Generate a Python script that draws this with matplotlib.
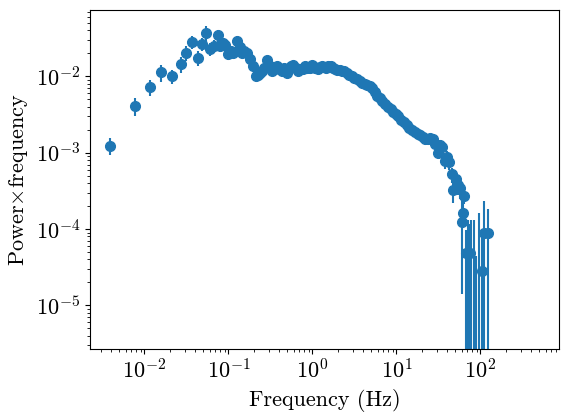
import matplotlib
matplotlib.use("Agg")
import matplotlib.pyplot as plt
import numpy as np

plt.rcParams['font.family'] = 'serif'
plt.rcParams['font.serif'] = ['cmr10']
plt.rcParams['mathtext.fontset'] = 'cm'
plt.rcParams['axes.formatter.use_mathtext'] = True
plt.rcParams['axes.unicode_minus'] = False

# frequency bins (Hz)
freq = [0.0039, 0.0078, 0.0117, 0.0156, 0.0215, 0.0273, 0.0312, 0.0371, 0.0430, 0.0488,
        0.0547, 0.0607, 0.0678, 0.0757, 0.0793, 0.0860, 0.0909, 0.0994, 0.107, 0.114,
        0.128, 0.136, 0.144, 0.155, 0.165, 0.180, 0.197, 0.212, 0.225, 0.237,
        0.252, 0.268, 0.290, 0.308, 0.327, 0.350, 0.375, 0.402, 0.430, 0.460,
        0.493, 0.530, 0.560, 0.590, 0.630, 0.678, 0.730, 0.780, 0.810, 0.870,
        0.930, 0.980, 1.02, 1.08, 1.15, 1.22, 1.30, 1.38, 1.46, 1.55,
        1.65, 1.75, 1.86, 1.98, 2.10, 2.25, 2.40, 2.55, 2.75, 2.95,
        3.15, 3.40, 3.65, 3.90, 4.20, 4.50, 4.80, 5.10, 5.50, 5.90,
        6.30, 6.80, 7.30, 7.90, 8.50, 9.10, 9.80, 10.5, 11.3, 12.2,
        13.2, 14.2, 15.3, 16.5, 17.8, 19.0, 20.5, 22.0, 23.5, 25.0,
        27.0, 29.0, 31.0, 33.0, 35.0, 37.9, 40.0, 42.5, 45.3, 47.5,
        51.0, 54.0, 56.9, 59.6, 61.3, 64.0, 66.5, 72.0, 75.2, 77.6,
        83.8, 88.5, 95.3, 103.0, 110.0, 124.0]

# power x frequency
power = [1.24e-3, 4.1e-3, 7.3e-3, 0.0114, 0.0101, 0.0147, 0.0203, 0.0283, 0.0174, 0.0268,
         0.0374, 0.0229, 0.0252, 0.0344, 0.0252, 0.0270, 0.0255, 0.0198, 0.0215, 0.0202,
         0.0294, 0.0240, 0.0202, 0.0215, 0.0202, 0.0169, 0.0135, 0.0100, 0.0105, 0.0111,
         0.0118, 0.0130, 0.0166, 0.0135, 0.0116, 0.0128, 0.0135, 0.0125, 0.0116, 0.0128,
         0.0111, 0.0125, 0.0138, 0.0142, 0.0128, 0.0116, 0.0125, 0.0125, 0.0135, 0.0130,
         0.0128, 0.0140, 0.0135, 0.0128, 0.0125, 0.0132, 0.0138, 0.0133, 0.0130, 0.0136,
         0.0138, 0.0130, 0.0124, 0.0122, 0.0120, 0.0119, 0.0116, 0.0110, 0.0105, 0.0100,
         0.0096, 0.0092, 0.0087, 0.0083, 0.0079, 0.0077, 0.0075, 0.0070, 0.0062, 0.0056,
         0.0052, 0.0048, 0.0044, 0.0040, 0.0037, 0.0034, 0.0032, 0.0030, 0.0027, 0.0025,
         0.0023, 0.0021, 0.0020, 0.00185, 0.00178, 0.00170, 0.00160, 0.00152, 0.00150, 0.00156,
         0.00150, 0.00130, 0.00100, 0.00127, 0.00120, 0.00077, 0.00088, 0.00075, 0.00052, 0.00032,
         0.00045, 0.00038, 0.00034, 1.22e-4, 1.62e-4, 2.73e-4, 4.8e-5, -2.0e-5, 4.8e-5, -2.0e-5,
         -1.0e-5, -3.0e-5, -2.0e-5, 2.78e-5, 9.0e-5, 9.0e-5]

# 1-sigma errors
err = [3.2e-4, 1.1e-3, 1.8e-3, 2.9e-3, 2.2e-3, 3.5e-3, 4.5e-3, 5.7e-3, 3.8e-3, 5.4e-3,
       8.2e-3, 4.6e-3, 4.5e-3, 6.2e-3, 4.3e-3, 4.3e-3, 4.1e-3, 3.2e-3, 3.2e-3, 3.0e-3,
       4.4e-3, 3.4e-3, 2.8e-3, 2.8e-3, 2.6e-3, 2.0e-3, 1.6e-3, 1.1e-3, 1.2e-3, 1.1e-3,
       1.2e-3, 1.3e-3, 1.5e-3, 1.2e-3, 1.0e-3, 1.0e-3, 1.1e-3, 1.0e-3, 0.8e-3, 0.9e-3,
       0.8e-3, 0.75e-3, 0.8e-3, 0.85e-3, 0.77e-3, 0.7e-3, 0.65e-3, 0.65e-3, 0.65e-3, 0.65e-3,
       0.64e-3, 0.7e-3, 0.67e-3, 0.64e-3, 0.62e-3, 0.66e-3, 0.69e-3, 0.66e-3, 0.65e-3, 0.68e-3,
       0.69e-3, 0.65e-3, 0.62e-3, 0.61e-3, 0.6e-3, 0.6e-3, 0.58e-3, 0.55e-3, 0.53e-3, 0.5e-3,
       0.48e-3, 0.46e-3, 0.44e-3, 0.42e-3, 0.4e-3, 0.39e-3, 0.38e-3, 0.36e-3, 0.32e-3, 0.29e-3,
       0.27e-3, 0.25e-3, 0.23e-3, 0.22e-3, 0.21e-3, 0.2e-3, 0.19e-3, 0.19e-3, 0.18e-3, 0.17e-3,
       0.16e-3, 0.15e-3, 0.15e-3, 0.14e-3, 0.14e-3, 0.14e-3, 0.14e-3, 0.13e-3, 0.14e-3, 0.15e-3,
       0.16e-3, 0.16e-3, 0.15e-3, 0.2e-3, 0.2e-3, 0.15e-3, 0.17e-3, 0.15e-3, 0.12e-3, 0.1e-3,
       0.1e-3, 0.1e-3, 0.09e-3, 1.08e-4, 0.6e-4, 0.6e-4, 5.0e-5, 1.5e-4, 7.0e-5, 1.5e-4,
       1.4e-4, 7.4e-5, 1.8e-4, 5.2e-5, 1.4e-4, 9.2e-5]

fig = plt.figure(figsize=(5.69, 4.19), dpi=100)
ax = fig.add_axes([0.158, 0.167, 0.824, 0.808])
ax.errorbar(freq, power, yerr=err, fmt='o', color='C0', markersize=7)
ax.set_xscale('log')
ax.set_yscale('log')
ax.set_xlim(2.24e-3, 855)
ax.set_ylim(2.68e-6, 7.3e-2)
ax.set_xlabel('Frequency (Hz)', fontsize=16)
ax.set_ylabel(r'Power$\times$frequency', fontsize=16)
ax.tick_params(labelsize=16)

fig.savefig('out.png', dpi=100)
